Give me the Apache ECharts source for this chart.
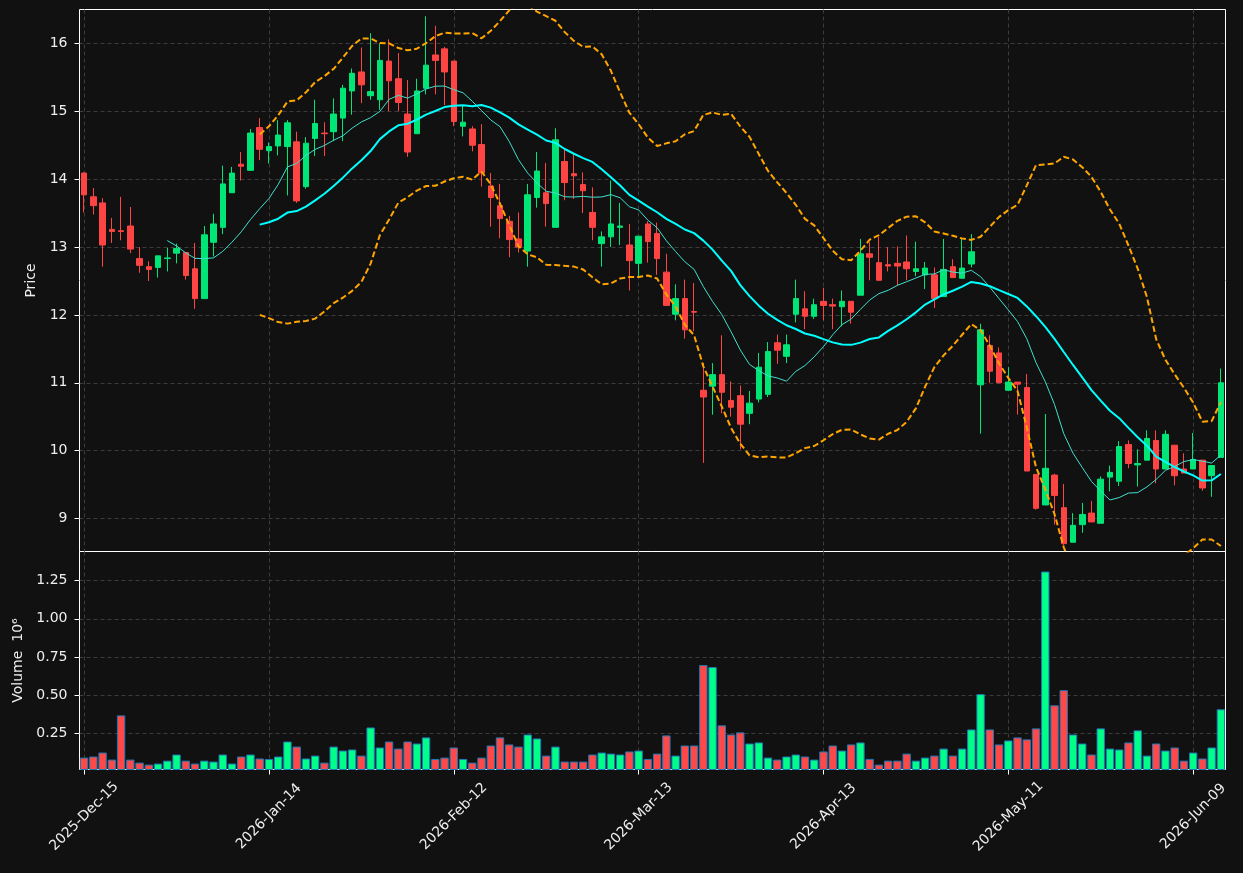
<!DOCTYPE html>
<html>
<head>
<meta charset="utf-8">
<title>Price / Volume</title>
<script src="https://cdn.jsdelivr.net/npm/echarts@6.0.0/dist/echarts.min.js"></script>
<style>
  html, body { margin: 0; padding: 0; background: #111111; }
  #main { width: 1243px; height: 873px; }
</style>
</head>
<body>
<div id="main"></div>
<script>
// daily bars, NYSE calendar starting 2025-12-15
var startDay = '2025-12-15';
var barCount = 124;
var holidays = ['2025-12-25', '2026-01-01', '2026-01-19', '2026-02-16', '2026-04-03', '2026-05-25'];
var monthNames = ['Jan', 'Feb', 'Mar', 'Apr', 'May', 'Jun', 'Jul', 'Aug', 'Sep', 'Oct', 'Nov', 'Dec'];

var opens = [14.09, 13.74, 13.65, 13.26, 13.24, 13.31, 12.83, 12.71, 12.70, 12.83,
  12.91, 12.92, 12.68, 12.24, 13.07, 13.29, 13.80, 14.22, 14.13, 14.76,
  14.42, 14.49, 14.48, 14.55, 13.89, 14.60, 14.68, 14.70, 14.90, 15.30,
  15.58, 15.23, 15.17, 15.74, 15.48, 14.96, 14.67, 15.34, 15.83, 15.92,
  15.74, 14.78, 14.74, 14.51, 13.90, 13.61, 13.38, 13.12, 12.94, 13.73,
  13.80, 13.29, 14.26, 14.08, 13.92, 13.51, 13.05, 13.15, 13.29, 13.03,
  12.76, 13.34, 13.20, 12.63, 12.01, 12.24, 12.05, 10.89, 10.95, 11.12,
  10.74, 10.81, 10.55, 10.76, 10.83, 11.59, 11.39, 12.01, 12.09, 11.98,
  12.20, 12.15, 12.12, 12.20, 12.29, 12.90, 12.77, 12.74, 12.76, 12.78,
  12.64, 12.59, 12.59, 12.27, 12.71, 12.54, 12.75, 10.97, 11.55, 11.44,
  10.89, 11.01, 10.93, 9.65, 9.20, 9.64, 9.16, 8.65, 8.91, 9.08,
  8.93, 9.61, 9.55, 10.09, 9.79, 9.86, 10.15, 9.73, 10.08, 9.73,
  9.73, 9.86, 9.63, 9.90];
var closes = [13.77, 13.61, 13.03, 13.23, 13.23, 12.97, 12.73, 12.67, 12.87, 12.84,
  12.98, 12.58, 12.24, 13.18, 13.34, 13.93, 14.09, 14.19, 14.68, 14.44,
  14.48, 14.65, 14.83, 13.68, 14.53, 14.82, 14.67, 14.96, 15.34, 15.56,
  15.39, 15.29, 15.75, 15.45, 15.13, 14.40, 15.30, 15.68, 15.75, 15.58,
  14.85, 14.84, 14.50, 14.09, 13.73, 13.42, 13.11, 13.00, 13.77, 14.12,
  13.64, 14.58, 13.95, 14.05, 13.83, 13.29, 13.15, 13.34, 13.31, 12.80,
  13.16, 13.08, 12.83, 12.14, 12.24, 11.78, 12.04, 10.79, 11.12, 10.86,
  10.64, 10.39, 10.70, 11.23, 11.46, 11.48, 11.56, 12.24, 11.98, 12.15,
  12.14, 12.13, 12.20, 12.04, 12.90, 12.85, 12.51, 12.72, 12.72, 12.68,
  12.68, 12.69, 12.24, 12.67, 12.55, 12.69, 12.93, 11.78, 11.17, 11.00,
  11.01, 10.98, 9.70, 9.15, 9.74, 9.34, 8.63, 8.90, 9.06, 8.95,
  9.58, 9.68, 10.06, 9.81, 9.81, 10.18, 9.73, 10.24, 9.63, 9.67,
  9.87, 9.45, 9.78, 11.00];
var lows = [13.51, 13.48, 12.71, 13.06, 13.10, 12.91, 12.62, 12.50, 12.55, 12.64,
  12.76, 12.52, 12.09, 12.24, 12.86, 13.19, 13.80, 13.98, 14.13, 14.28,
  14.23, 14.35, 13.76, 13.65, 13.86, 14.34, 14.34, 14.56, 14.56, 14.95,
  15.12, 15.17, 15.02, 15.00, 15.00, 14.33, 14.67, 15.25, 15.25, 15.09,
  14.78, 14.63, 14.41, 13.89, 13.30, 13.13, 12.85, 12.92, 12.71, 13.58,
  13.30, 13.29, 13.69, 13.71, 13.50, 13.10, 12.71, 13.00, 13.03, 12.36,
  12.57, 12.77, 12.59, 12.14, 11.92, 11.65, 11.76, 9.82, 10.53, 10.55,
  10.50, 10.02, 10.39, 10.71, 10.79, 11.28, 11.29, 11.89, 11.79, 11.94,
  11.92, 11.79, 11.83, 11.87, 12.29, 12.51, 12.51, 12.64, 12.43, 12.51,
  12.57, 12.38, 12.10, 12.27, 12.55, 12.54, 12.70, 10.25, 11.00, 11.00,
  10.89, 10.53, 9.70, 9.13, 9.20, 8.91, 8.61, 8.65, 8.79, 8.95,
  8.93, 9.40, 9.48, 9.74, 9.47, 9.86, 9.52, 9.73, 9.49, 9.67,
  9.73, 9.41, 9.32, 9.90];
var highs = [14.10, 13.87, 13.72, 13.43, 13.74, 13.59, 13.00, 12.79, 12.87, 12.99,
  13.05, 12.92, 13.06, 13.31, 13.49, 14.20, 14.18, 14.40, 14.74, 14.90,
  14.54, 14.87, 14.87, 14.70, 14.62, 15.17, 14.84, 15.19, 15.39, 15.63,
  15.94, 16.15, 16.00, 16.06, 15.86, 15.46, 15.48, 16.40, 16.26, 15.95,
  15.74, 15.09, 14.78, 14.81, 14.09, 13.93, 13.46, 13.51, 13.93, 14.40,
  14.24, 14.75, 14.43, 14.37, 14.10, 13.88, 13.23, 13.98, 13.65, 13.34,
  13.16, 13.38, 13.36, 12.90, 12.45, 12.52, 12.47, 11.29, 11.29, 11.70,
  11.02, 10.96, 10.88, 11.44, 11.60, 11.71, 11.71, 12.52, 12.35, 12.24,
  12.40, 12.24, 12.36, 12.20, 13.12, 13.07, 13.15, 13.00, 13.01, 13.17,
  13.08, 12.78, 12.70, 13.12, 12.82, 13.12, 13.19, 11.87, 11.70, 11.52,
  11.23, 11.01, 11.13, 9.65, 10.54, 9.66, 9.51, 9.08, 9.23, 9.26,
  9.62, 9.78, 10.14, 10.15, 10.02, 10.30, 10.30, 10.30, 10.08, 9.96,
  10.26, 9.86, 9.78, 11.21];
// volume in millions of shares
var volumes = [0.092, 0.099, 0.125, 0.079, 0.368, 0.079, 0.059, 0.046, 0.053, 0.072,
  0.112, 0.072, 0.053, 0.072, 0.066, 0.112, 0.053, 0.099, 0.112, 0.086,
  0.083, 0.099, 0.197, 0.164, 0.086, 0.105, 0.059, 0.164, 0.138, 0.145,
  0.105, 0.289, 0.158, 0.197, 0.151, 0.197, 0.184, 0.224, 0.083, 0.092,
  0.158, 0.083, 0.059, 0.092, 0.171, 0.224, 0.178, 0.164, 0.243, 0.217,
  0.105, 0.164, 0.066, 0.066, 0.066, 0.112, 0.125, 0.118, 0.112, 0.132,
  0.138, 0.083, 0.118, 0.237, 0.105, 0.171, 0.171, 0.697, 0.684, 0.303,
  0.243, 0.257, 0.184, 0.191, 0.092, 0.079, 0.099, 0.112, 0.099, 0.079,
  0.132, 0.171, 0.138, 0.178, 0.191, 0.083, 0.046, 0.072, 0.072, 0.118,
  0.072, 0.092, 0.105, 0.151, 0.105, 0.151, 0.276, 0.507, 0.276, 0.178,
  0.204, 0.224, 0.211, 0.283, 1.309, 0.434, 0.533, 0.243, 0.184, 0.112,
  0.283, 0.151, 0.145, 0.191, 0.270, 0.105, 0.184, 0.138, 0.158, 0.072,
  0.125, 0.086, 0.158, 0.408];

var upColor = '#00e676';
var downColor = '#ff4444';
var volUp = '#00ff88';
var volDown = '#ff4848';
var textColor = '#eeeeee';
var frameColor = '#ffffff';
var gridColor = '#3c3c3c';

function tradingDays(start, n) {
  var out = [];
  var d = new Date(start + 'T00:00:00Z');
  while (out.length < n) {
    var iso = d.toISOString().slice(0, 10);
    var wd = d.getUTCDay();
    if (wd !== 0 && wd !== 6 && holidays.indexOf(iso) < 0) {
      out.push(d.getUTCFullYear() + '-' + monthNames[d.getUTCMonth()] + '-' + iso.slice(8, 10));
    }
    d.setUTCDate(d.getUTCDate() + 1);
  }
  return out;
}

function movingAvg(arr, n) {
  return arr.map(function (v, i) {
    if (i < n - 1) return null;
    var s = 0;
    for (var k = i - n + 1; k <= i; k++) s += arr[k];
    return s / n;
  });
}

// bollinger: sma +/- mult * sample std
function bands(arr, n, mult) {
  var mid = movingAvg(arr, n);
  var up = [], lo = [];
  arr.forEach(function (v, i) {
    if (mid[i] === null) { up.push(null); lo.push(null); return; }
    var ss = 0;
    for (var k = i - n + 1; k <= i; k++) ss += Math.pow(arr[k] - mid[i], 2);
    var sd = Math.sqrt(ss / (n - 1));
    up.push(mid[i] + mult * sd);
    lo.push(mid[i] - mult * sd);
  });
  return { up: up, lo: lo };
}

var dates = tradingDays(startDay, barCount);
var candles = opens.map(function (o, i) { return [o, closes[i], lows[i], highs[i]]; });
var ma10 = movingAvg(closes, 10);
var ma20 = movingAvg(closes, 20);
var bb = bands(closes, 20, 2);
var volData = volumes.map(function (v, i) {
  return { value: v, itemStyle: { color: closes[i] > opens[i] ? volUp : volDown } };
});

var chart = echarts.init(document.getElementById('main'));

var splitStyle = { show: true, interval: 19, alignWithLabel: true, lineStyle: { color: gridColor, type: [4, 3], width: 1 } };
var ySplit = { show: true, showMinLine: false, showMaxLine: false, lineStyle: { color: gridColor, type: [4, 3], width: 1 } };

var option = {
  backgroundColor: '#111111',
  animation: false,
  textStyle: { fontFamily: 'DejaVu Sans' },
  grid: [
    { left: 79.5, top: 9.5, width: 1146, height: 542, show: true, borderColor: frameColor, borderWidth: 1, backgroundColor: '#111111' },
    { left: 79.5, top: 551.5, width: 1146, height: 218, show: true, borderColor: frameColor, borderWidth: 1, backgroundColor: 'transparent' }
  ],
  xAxis: [
    {
      type: 'category', gridIndex: 0, data: dates, boundaryGap: true,
      axisLine: { show: false }, axisTick: { show: false }, axisLabel: { show: false },
      splitLine: splitStyle
    },
    {
      type: 'category', gridIndex: 1, data: dates, boundaryGap: true,
      axisLine: { show: false },
      axisTick: { show: true, interval: 19, alignWithLabel: true, length: 5, lineStyle: { color: frameColor } },
      axisLabel: {
        interval: 19, rotate: 45, color: textColor, fontSize: 14,
        align: 'center', verticalAlign: 'middle', margin: 47
      },
      splitLine: splitStyle
    }
  ],
  yAxis: [
    {
      type: 'value', gridIndex: 0, min: 8.514, max: 16.5, minInterval: 1, maxInterval: 1,
      name: 'Price', nameLocation: 'middle', nameRotate: 90, nameGap: 37,
      nameTextStyle: { color: textColor, fontSize: 14 },
      axisLine: { show: false },
      axisTick: { show: true, length: 5, lineStyle: { color: frameColor } },
      axisLabel: { color: textColor, fontSize: 14, margin: 12, showMinLabel: false, showMaxLabel: false },
      splitLine: ySplit
    },
    {
      type: 'value', gridIndex: 1, min: 0.014, max: 1.44, minInterval: 0.25, maxInterval: 0.25,
      name: 'Volume  10⁶', nameLocation: 'middle', nameRotate: 90, nameGap: 51,
      nameTextStyle: { color: textColor, fontSize: 14 },
      axisLine: { show: false },
      axisTick: { show: true, length: 5, lineStyle: { color: frameColor } },
      axisLabel: {
        color: textColor, fontSize: 14, margin: 12, showMinLabel: false, showMaxLabel: false,
        formatter: function (v) { return v.toFixed(2); }
      },
      splitLine: ySplit
    }
  ],
  series: [
    {
      name: 'OHLC', type: 'candlestick', xAxisIndex: 0, yAxisIndex: 0,
      data: candles, barWidth: 6,
      itemStyle: { color: upColor, color0: downColor, borderColor: upColor, borderColor0: downColor, borderWidth: 1 }
    },
    {
      name: 'MA10', type: 'line', xAxisIndex: 0, yAxisIndex: 0, data: ma10,
      showSymbol: false, lineStyle: { color: '#40e0d0', width: 1 }, z: 3
    },
    {
      name: 'MA20', type: 'line', xAxisIndex: 0, yAxisIndex: 0, data: ma20,
      showSymbol: false, lineStyle: { color: '#00ffff', width: 2 }, z: 3
    },
    {
      name: 'Upper', type: 'line', xAxisIndex: 0, yAxisIndex: 0, data: bb.up,
      showSymbol: false, lineStyle: { color: '#ffa500', width: 2, type: [6, 3] }, z: 3
    },
    {
      name: 'Lower', type: 'line', xAxisIndex: 0, yAxisIndex: 0, data: bb.lo,
      showSymbol: false, lineStyle: { color: '#ffa500', width: 2, type: [6, 3] }, z: 3
    },
    {
      name: 'Volume', type: 'bar', xAxisIndex: 1, yAxisIndex: 1, data: volData,
      barWidth: 8.4, clip: true,
      itemStyle: { borderColor: '#1f77b4', borderWidth: 1 }
    }
  ]
};

chart.setOption(option);
</script>
</body>
</html>
